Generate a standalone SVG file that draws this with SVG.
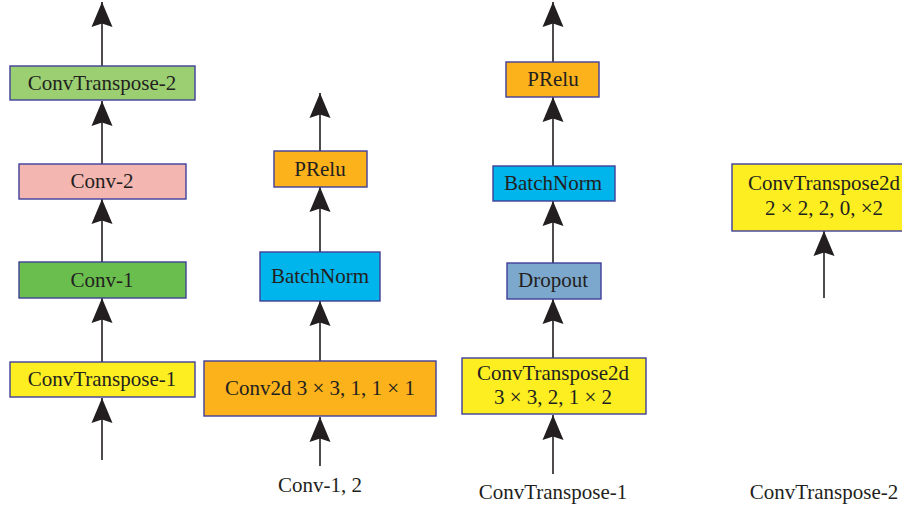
<svg xmlns="http://www.w3.org/2000/svg" width="902" height="509" viewBox="0 0 902 509">
  <defs>
    <marker id="arrow" markerUnits="userSpaceOnUse" markerWidth="26" markerHeight="22" viewBox="0 0 26 22" refX="25" refY="11" orient="auto">
      <path d="M25,11 L0,0.5 L3.5,11 L0,21.5 Z" fill="#231F20"/>
    </marker>
    <style>
      .box { stroke: #3F3F99; stroke-width: 1.4; }
      .lbl { font-family: "Liberation Serif", "Times New Roman", serif; font-size: 21px; fill: #231F20; text-anchor: middle; }
      .edge { stroke: #231F20; stroke-width: 1.6; fill: none; marker-end: url(#arrow); }
    </style>
  </defs>
  <rect width="902" height="509" fill="#FFFFFF"/>

  <!-- connectors -->
  <g id="connectors">
    <!-- column 1 -->
    <line class="edge" x1="102" y1="66" x2="102" y2="2"/>
    <line class="edge" x1="102" y1="164" x2="102" y2="101"/>
    <line class="edge" x1="102" y1="262" x2="102" y2="199"/>
    <line class="edge" x1="102" y1="362" x2="102" y2="298"/>
    <line class="edge" x1="102" y1="460" x2="102" y2="398"/>
    <!-- column 2 -->
    <line class="edge" x1="320" y1="151" x2="320" y2="93"/>
    <line class="edge" x1="320" y1="252" x2="320" y2="187"/>
    <line class="edge" x1="320" y1="361" x2="320" y2="301"/>
    <line class="edge" x1="320" y1="466" x2="320" y2="417"/>
    <!-- column 3 -->
    <line class="edge" x1="553" y1="62" x2="553" y2="2"/>
    <line class="edge" x1="553" y1="166" x2="553" y2="97"/>
    <line class="edge" x1="553" y1="263" x2="553" y2="201"/>
    <line class="edge" x1="553" y1="358" x2="553" y2="299"/>
    <line class="edge" x1="553" y1="474" x2="553" y2="415"/>
    <!-- column 4 -->
    <line class="edge" x1="824" y1="298" x2="824" y2="231"/>
  </g>

  <!-- column 1 -->
  <g id="ct2">
    <rect class="box" x="10" y="66" width="185" height="34" fill="#9BCF72"/>
    <text class="lbl" x="102" y="90">ConvTranspose-2</text>
  </g>
  <g id="conv2">
    <rect class="box" x="19" y="164" width="167" height="35" fill="#F4B6B1"/>
    <text class="lbl" x="102" y="188">Conv-2</text>
  </g>
  <g id="conv1">
    <rect class="box" x="19" y="262" width="167" height="36" fill="#6ABE4D"/>
    <text class="lbl" x="102" y="287">Conv-1</text>
  </g>
  <g id="ct1">
    <rect class="box" x="10" y="362" width="185" height="35" fill="#FCEE21"/>
    <text class="lbl" x="102" y="386">ConvTranspose-1</text>
  </g>

  <!-- column 2 -->
  <g id="prelu-a">
    <rect class="box" x="274" y="151" width="93" height="36" fill="#FBB21B"/>
    <text class="lbl" x="320" y="176">PRelu</text>
  </g>
  <g id="bn-a">
    <rect class="box" x="260" y="252" width="120" height="49" fill="#00B4EC"/>
    <text class="lbl" x="320" y="283">BatchNorm</text>
  </g>
  <g id="conv2d">
    <rect class="box" x="204" y="361" width="232" height="55" fill="#FBB21B"/>
    <text class="lbl" x="320" y="395">Conv2d 3 × 3, 1, 1 × 1</text>
  </g>
  <g id="in-a">
    <text class="lbl" x="320" y="492">Conv-1, 2</text>
  </g>

  <!-- column 3 -->
  <g id="prelu-b">
    <rect class="box" x="506" y="62" width="93" height="35" fill="#FBB21B"/>
    <text class="lbl" x="553" y="86">PRelu</text>
  </g>
  <g id="bn-b">
    <rect class="box" x="493" y="166" width="122" height="35" fill="#00B4EC"/>
    <text class="lbl" x="553" y="190">BatchNorm</text>
  </g>
  <g id="dropout">
    <rect class="box" x="507" y="263" width="94" height="36" fill="#7DA8CD"/>
    <text class="lbl" x="553" y="287">Dropout</text>
  </g>
  <g id="convT2d-a">
    <rect class="box" x="462" y="358" width="184" height="56" fill="#FCEE21"/>
    <text class="lbl" x="553" y="380">ConvTranspose2d</text>
    <text class="lbl" x="553" y="404">3 × 3, 2, 1 × 2</text>
  </g>
  <g id="in-b">
    <text class="lbl" x="553" y="499">ConvTranspose-1</text>
  </g>

  <!-- column 4 -->
  <g id="convT2d-b">
    <rect class="box" x="732" y="164" width="184" height="67" fill="#FCEE21"/>
    <text class="lbl" x="824" y="190">ConvTranspose2d</text>
    <text class="lbl" x="824" y="215">2 × 2, 2, 0, ×2</text>
  </g>
  <g id="in-c">
    <text class="lbl" x="824" y="499">ConvTranspose-2</text>
  </g>
</svg>
